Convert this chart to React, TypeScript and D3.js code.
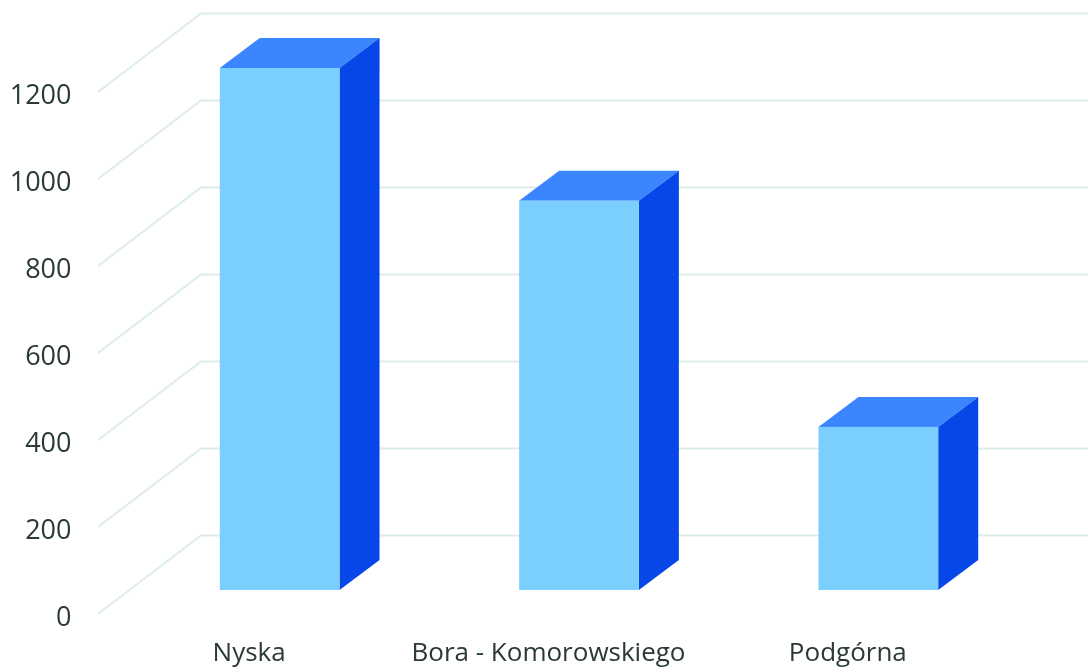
import React from "react";
import * as d3 from "d3";

const categories = ["Nyska", "Bora - Komorowskiego", "Podgórna"];
const values = [1200, 895, 375];
const ticks = [0, 200, 400, 600, 800, 1000, 1200];

const W = 1088, H = 668;
const y = d3.scaleLinear().domain([0, 1200]).range([614, 92]);
const x = d3.scaleBand<string>().domain(categories).range([130, 1028]).paddingInner(0.6).paddingOuter(0.3);
const barDepthX = 40, barDepthY = 30;
const floorOffsetY = 24;
const labelShift = -30.5;
const gridDX = 103, gridDY = 78.5;
const font = "'Open Sans', sans-serif";

const poly = (pts: number[][]) => d3.line()(pts as [number, number][]) + "Z";

export default function App() {
  return (
    <svg width={W} height={H} viewBox={`0 0 ${W} ${H}`}
      style={{ position: "absolute", left: 0, top: 0, background: "#fff", filter: "blur(0.4px)" }}>
      {ticks.map((t) => {
        const yy = y(t);
        const path = d3.line()([[98, yy], [98 + gridDX, yy - gridDY], [W, yy - gridDY]]);
        return (
          <g key={t}>
            <path d={path!} fill="none" stroke="#dceee7" strokeWidth={2} />
            <text x={71.5} y={yy + 11.5} textAnchor="end" fontFamily={font} fontSize={27} fill="#2a3a36">{t}</text>
          </g>
        );
      })}
      {categories.map((c, i) => {
        const x0 = x(c)!, x1 = x0 + x.bandwidth();
        const yb = y(0) - floorOffsetY, yt = y(values[i]) - floorOffsetY;
        return (
          <g key={c}>
            <path d={poly([[x0, yt], [x0 + barDepthX, yt - barDepthY], [x1 + barDepthX, yt - barDepthY], [x1, yt]])} fill="#3b86ff" />
            <path d={poly([[x1, yt], [x1 + barDepthX, yt - barDepthY], [x1 + barDepthX, yb - barDepthY], [x1, yb]])} fill="#0747e8" />
            <rect x={x0} y={yt} width={x1 - x0} height={yb - yt} fill="#7acfff" />
            <text x={x0 + x.bandwidth() / 2 + labelShift} y={661} textAnchor="middle"
              fontFamily={font} fontSize={26} fill="#2a3a36">{c}</text>
          </g>
        );
      })}
    </svg>
  );
}
